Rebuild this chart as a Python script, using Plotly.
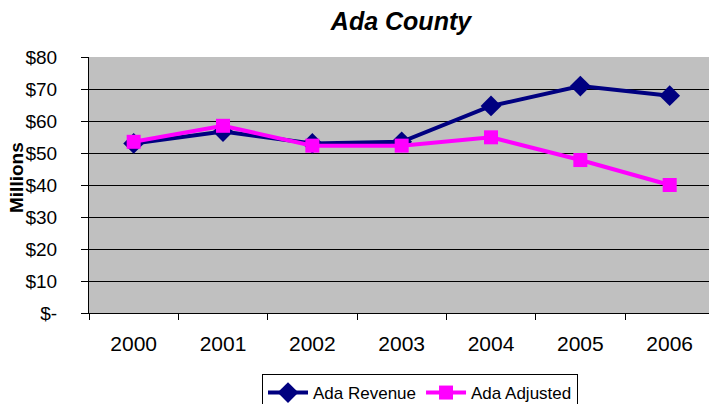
import plotly.graph_objects as go

years = ["2000", "2001", "2002", "2003", "2004", "2005", "2006"]
ada_revenue = [53.0, 56.7, 53.0, 53.5, 64.7, 70.9, 67.9]
ada_adjusted = [53.5, 58.5, 52.3, 52.3, 54.9, 47.8, 40.0]
y_tick_vals = [0, 10, 20, 30, 40, 50, 60, 70, 80]
y_tick_text = ["$-", "$10", "$20", "$30", "$40", "$50", "$60", "$70", "$80"]

FONT = "Liberation Sans, Arial, sans-serif"

fig = go.Figure()
fig.add_trace(go.Scatter(
    x=years, y=ada_revenue, name="Ada Revenue", mode="lines+markers",
    line=dict(color="#000080", width=4),
    marker=dict(symbol="diamond", size=16, color="#000080"),
))
fig.add_trace(go.Scatter(
    x=years, y=ada_adjusted, name="Ada Adjusted", mode="lines+markers",
    line=dict(color="#FF00FF", width=4),
    marker=dict(symbol="square", size=14, color="#FF00FF"),
))

fig.update_layout(
    width=709, height=404,
    margin=dict(l=89, r=0, t=57, b=91, autoexpand=False),
    paper_bgcolor="white",
    plot_bgcolor="#C0C0C0",
    font=dict(family=FONT, color="black", size=19),
    title=dict(text="<b><i>Ada County</i></b>", x=401/709, xanchor="center",
               xref="container", y=1-21/404, yref="container", yanchor="middle",
               font=dict(size=25, family=FONT, color="black")),
    showlegend=True,
    legend=dict(orientation="h", xref="container", yref="container",
                x=262/709, xanchor="left", y=1-374/404, yanchor="top",
                bordercolor="black", borderwidth=1, bgcolor="white",
                font=dict(size=17, family=FONT), itemwidth=40,
                tracegroupgap=0),
    xaxis=dict(type="category", range=[-0.5, 6.44], showgrid=False,
               showline=True, linecolor="black", linewidth=1,
               ticks="outside", tickson="boundaries", ticklen=6, tickcolor="black",
               ticklabelstandoff=12, tickfont=dict(size=21)),
    yaxis=dict(range=[0, 80], tickvals=y_tick_vals, ticktext=y_tick_text,
               showgrid=True, gridcolor="black", gridwidth=1,
               showline=True, linecolor="black", linewidth=1,
               ticks="outside", ticklen=7, tickcolor="black",
               ticklabelstandoff=20, tickfont=dict(size=19), zeroline=False),
    annotations=[dict(text="<b>Millions</b>", textangle=-90, xref="paper", yref="paper",
                      x=(16-89)/620, y=(313-178)/256, xanchor="center", yanchor="middle",
                      showarrow=False, font=dict(size=19, family=FONT))],
)

fig.write_html("out.html", config={"displayModeBar": False},
               post_script="document.body.style.margin='0';")
